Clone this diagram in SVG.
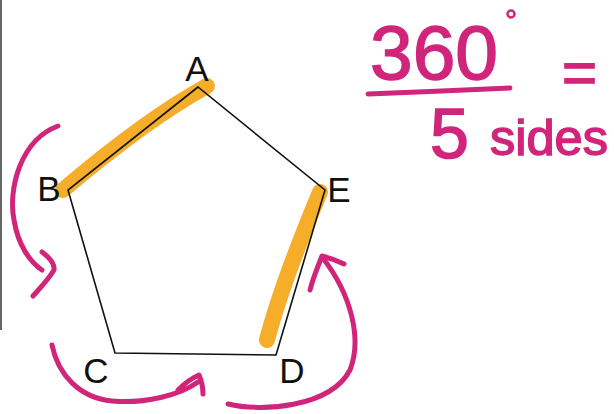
<svg xmlns="http://www.w3.org/2000/svg" width="614" height="414" viewBox="0 0 614 414">
<style>
.hl{stroke:#F5A91F;stroke-width:16;stroke-linecap:round;fill:none;opacity:0.95}
.edge{stroke:#111;stroke-width:1.6;fill:none}
.lbl{font-family:"Liberation Sans",Arial,sans-serif;font-size:35px;fill:#111;text-anchor:middle}
.pk{stroke:#D0257A;stroke-width:5;stroke-linecap:round;stroke-linejoin:round;fill:none}
.pt{font-family:"Liberation Sans",Arial,sans-serif;fill:#D0257A;stroke:#D0257A;stroke-width:1.5}
</style>
<rect width="614" height="414" fill="#fff"/>
<line x1="1" y1="0" x2="1" y2="330" stroke="#666" stroke-width="2"/>
<g id="highlights">
<path class="hl" d="M63,190 C110,150 160,112 207,86"/>
<path class="hl" d="M320,192 C300,240 280,290 267,340"/>
</g>
<g id="connectors">
<path class="edge" d="M198,87 L68,190 L115,353 L276,355 L325,190 Z"/>
<path class="pk" d="M58,126 C20,140 8,190 14,220 C18,245 30,262 42,270"/>
<path class="pk" d="M42,252 C50,258 55,264 54,270 C48,280 40,288 33,296"/>
<path class="pk" d="M52,345 C58,375 80,398 112,401 C145,404 180,395 198,382"/>
<path class="pk" d="M178,390 C185,383 192,378 199,375 C202,382 203,388 203,394"/>
<path class="pk" d="M228,404 C260,412 330,408 350,370 C362,340 352,295 322,257"/>
<path class="pk" d="M310,290 C313,278 318,266 322,256 C330,258 338,261 344,264"/>
</g>
<g id="A"><text class="lbl" x="197" y="81">A</text></g>
<g id="B"><text class="lbl" x="49" y="201">B</text></g>
<g id="C"><text class="lbl" x="96" y="383">C</text></g>
<g id="D"><text class="lbl" x="292" y="383">D</text></g>
<g id="E"><text class="lbl" x="339" y="202">E</text></g>
<g id="formula">
<text class="pt" x="370" y="79" font-size="76" textLength="128" lengthAdjust="spacingAndGlyphs">360</text>
<circle cx="511" cy="14" r="3.5" fill="none" stroke="#D0257A" stroke-width="2.5"/>
<path class="pk" d="M368,94 C410,92 470,90 510,88" stroke-width="6"/>
<text class="pt" x="562" y="93" font-size="60">=</text>
<text class="pt" x="430" y="158" font-size="70">5</text>
<text class="pt" x="490" y="155" font-size="50" textLength="118" lengthAdjust="spacingAndGlyphs">sides</text>
</g>
</svg>
